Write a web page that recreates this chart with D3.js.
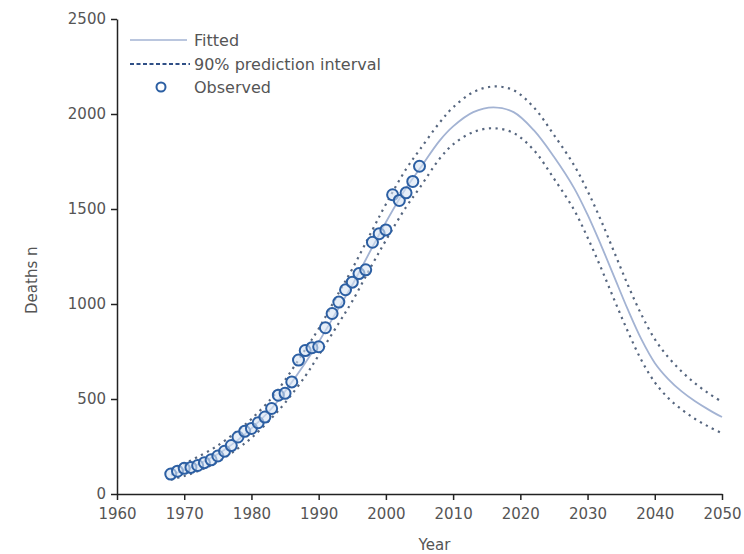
<!DOCTYPE html>
<html>
<head>
<meta charset="utf-8">
<script src="https://cdn.jsdelivr.net/npm/d3@7"></script>
<style>
  body { margin: 0; background: #fff; }
  text { font-family: "DejaVu Sans", sans-serif; fill: #555; }
</style>
</head>
<body>
<svg id="chart" width="744" height="554"></svg>
<script>
// observed deaths, one per year
var obsYears = [1968,1969,1970,1971,1972,1973,1974,1975,1976,1977,1978,1979,1980,1981,1982,1983,1984,1985,1986,1987,
                1988,1989,1990,1991,1992,1993,1994,1995,1996,1997,1998,1999,2000,2001,2002,2003,2004,2005];
var obsDeaths = [105,120,135,140,150,165,180,200,225,255,300,330,345,375,405,450,520,530,590,705,
                 755,770,775,875,950,1010,1075,1115,1160,1180,1325,1370,1390,1575,1545,1585,1645,1725];

// fitted curve + 90% prediction interval
var fitYears = [1968,1970,1972,1975,1978,1980,1983,1985,1988,1990,1993,1995,1998,2000,2003,2005,2008,2010,
                2013,2016,2019,2022,2025,2028,2030,2032,2034,2036,2038,2040,2042,2044,2046,2048,2050];
var fitted = [100,125,155,210,285,345,450,540,690,800,980,1100,1300,1430,1610,1710,1860,1935,
              2010,2035,2010,1915,1775,1610,1470,1310,1140,970,815,690,605,540,488,444,405];
var upper = [130,160,195,255,335,395,505,600,760,870,1060,1185,1390,1525,1710,1810,1955,2035,
             2115,2145,2125,2035,1890,1730,1595,1440,1270,1100,945,815,720,645,582,530,485];
var lower = [75,95,120,170,240,295,400,480,620,730,900,1015,1210,1335,1510,1610,1765,1840,
             1905,1925,1900,1810,1660,1495,1350,1190,1020,855,705,588,505,445,395,355,320];

var xTicks = [1960,1970,1980,1990,2000,2010,2020,2030,2040,2050];
var yTicks = [0,500,1000,1500,2000,2500];

var m = {left: 117, top: 19, right: 22, bottom: 60};
var svg = d3.select("#chart"),
    W = +svg.attr("width") - m.left - m.right,
    H = +svg.attr("height") - m.top - m.bottom;

var x = d3.scaleLinear().domain([1960, 2050]).range([0, W]),
    y = d3.scaleLinear().domain([0, 2500]).range([H, 0]);

var g = svg.append("g").attr("transform", "translate(" + m.left + "," + m.top + ")");

// axes
var xAx = g.append("g")
    .attr("transform", "translate(0," + H + ")")
    .call(d3.axisBottom(x).tickValues(xTicks).tickFormat(d3.format("d")).tickSize(6).tickSizeOuter(0).tickPadding(8));
var yAx = g.append("g")
    .call(d3.axisLeft(y).tickValues(yTicks).tickFormat(d3.format("d")).tickSize(6).tickSizeOuter(0).tickPadding(5));

[xAx, yAx].forEach(function(a){
    a.selectAll("path, line").attr("stroke", "#222").attr("stroke-width", 1.5);
    a.selectAll("text").attr("font-size", 15).attr("fill", "#555")
        .style("font-family", "'DejaVu Sans', sans-serif");
});

g.append("text")
    .attr("x", W / 2 + 15).attr("y", H + 56)
    .attr("text-anchor", "middle").attr("font-size", 15)
    .text("Year");
g.append("text")
    .attr("transform", "translate(-80," + (H * 0.55) + ") rotate(-90)")
    .attr("text-anchor", "middle").attr("font-size", 15)
    .text("Deaths n");

// lines
var lineOf = function(vals){
    return d3.line()
        .x(function(d, i){ return x(fitYears[i]); })
        .y(function(d){ return y(d); })
        .curve(d3.curveCatmullRom.alpha(0.5))(vals);
};

g.append("path").attr("d", lineOf(fitted))
    .attr("fill", "none").attr("stroke", "#a3b3d3").attr("stroke-width", 1.8);

[upper, lower].forEach(function(v){
    g.append("path").attr("d", lineOf(v))
        .attr("fill", "none").attr("stroke", "#56667f").attr("stroke-width", 2.2)
        .attr("stroke-dasharray", "2.2,4.5");
});

// observed points
g.selectAll("circle.obs")
    .data(obsDeaths)
  .enter().append("circle")
    .attr("class", "obs")
    .attr("cx", function(d, i){ return x(obsYears[i]); })
    .attr("cy", function(d){ return y(d); })
    .attr("r", 5.5)
    .attr("fill", "#d6e3f3").attr("fill-opacity", 0.6)
    .attr("stroke", "#2c5fa3").attr("stroke-width", 2);

// legend
var lg = svg.append("g").attr("transform", "translate(130,0)");
lg.append("line").attr("x1", 0).attr("x2", 57).attr("y1", 40).attr("y2", 40)
    .attr("stroke", "#a3b3d3").attr("stroke-width", 1.5);
lg.append("line").attr("x1", 0).attr("x2", 60).attr("y1", 64).attr("y2", 64)
    .attr("stroke", "#2f4f86").attr("stroke-width", 1.8).attr("stroke-dasharray", "4,2.5");
lg.append("circle").attr("cx", 31).attr("cy", 87).attr("r", 4.5)
    .attr("fill", "#fff").attr("stroke", "#2c5fa3").attr("stroke-width", 2);

var legTexts = ["Fitted", "90% prediction interval", "Observed"];
lg.selectAll("text.leg")
    .data(legTexts)
  .enter().append("text")
    .attr("class", "leg")
    .attr("x", 64)
    .attr("y", function(d, i){ return 46 + i * 23.5; })
    .attr("font-size", 16)
    .attr("fill", "#555")
    .text(function(d){ return d; });
</script>
</body>
</html>
